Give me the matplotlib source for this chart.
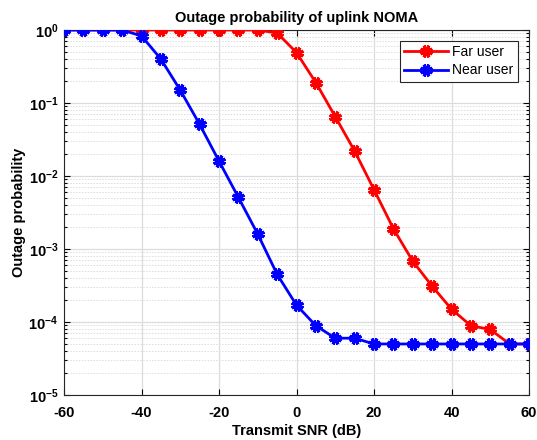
import matplotlib
matplotlib.use("Agg")
import matplotlib.pyplot as plt
from matplotlib.ticker import LogLocator, FixedLocator, NullFormatter

plt.rcParams['font.family'] = ['Liberation Sans', 'DejaVu Sans']
plt.rcParams['axes.unicode_minus'] = False

snr_db = [-60, -55, -50, -45, -40, -35, -30, -25, -20, -15, -10, -5, 0,
          5, 10, 15, 20, 25, 30, 35, 40, 45, 50, 55, 60]

far_user = [1.0, 1.0, 1.0, 1.0, 1.0, 1.0, 1.0, 1.0, 1.0, 1.0, 1.0, 0.91, 0.49,
            0.19, 0.065, 0.022, 0.0065, 0.0019, 6.8e-4, 3.1e-4, 1.5e-4,
            8.9e-5, 7.9e-5, 5.0e-5, 5.0e-5]

near_user = [1.0, 1.0, 1.0, 1.0, 0.83, 0.40, 0.15, 0.051, 0.016, 0.0051,
             0.0016, 4.5e-4, 1.7e-4, 8.9e-5, 6.0e-5, 6.0e-5, 5.0e-5, 5.0e-5,
             5.0e-5, 5.0e-5, 5.0e-5, 5.0e-5, 5.0e-5, 5.0e-5, 5.0e-5]

x_ticks = [-60, -40, -20, 0, 20, 40, 60]

fig = plt.figure(figsize=(5.37, 4.40), dpi=100)
ax = fig.add_axes([64 / 537, 45 / 440, 465 / 537, 365 / 440])

asterisk = (8, 2, 22.5)
ax.semilogy(snr_db, far_user, color='#ff0000', lw=2, marker=asterisk,
            ms=9, mew=2.2, label='Far user', zorder=3)
ax.semilogy(snr_db, near_user, color='#0000ff', lw=2, marker=asterisk,
            ms=9, mew=2.2, label='Near user', zorder=4)

ax.set_xlim(-60, 60)
ax.set_ylim(1e-5, 1)
ax.xaxis.set_major_locator(FixedLocator(x_ticks))
ax.yaxis.set_major_locator(LogLocator(base=10, numticks=10))
ax.yaxis.set_minor_locator(LogLocator(base=10, subs=range(2, 10), numticks=20))
ax.yaxis.set_minor_formatter(NullFormatter())

ax.grid(which='major', color='#dcdcdc', lw=0.9, ls='-')
ax.grid(which='minor', axis='y', color='#dcdcdc', lw=0.7, ls=(0, (1.5, 1.5)))
ax.set_axisbelow(True)

ax.tick_params(which='both', direction='in', top=True, right=True,
               labelsize=10.5, width=0.8)
ax.tick_params(which='major', length=4)
ax.tick_params(which='minor', length=2)
ax.tick_params(axis='x', which='major', pad=8)
ax.tick_params(axis='y', which='major', pad=4)
for lbl in ax.get_xticklabels() + ax.get_yticklabels():
    lbl.set_fontweight('bold')
for s in ax.spines.values():
    s.set_color('#262626')
    s.set_linewidth(0.8)

ax.set_title('Outage probability of uplink NOMA', fontsize=10.5,
             fontweight='bold', pad=6)
ax.set_xlabel('Transmit SNR (dB)', fontsize=10.5, fontweight='bold', labelpad=3)
ax.set_ylabel('Outage probability', fontsize=10.5, fontweight='bold', labelpad=2)

leg = ax.legend(loc='upper right', fontsize=10, fancybox=False,
                edgecolor='#262626', framealpha=1, borderaxespad=0.8,
                handlelength=3.2, handletextpad=0.3, borderpad=0.3,
                labelspacing=0.3)
leg.get_frame().set_linewidth(0.8)

fig.savefig('out.png', dpi=100)
